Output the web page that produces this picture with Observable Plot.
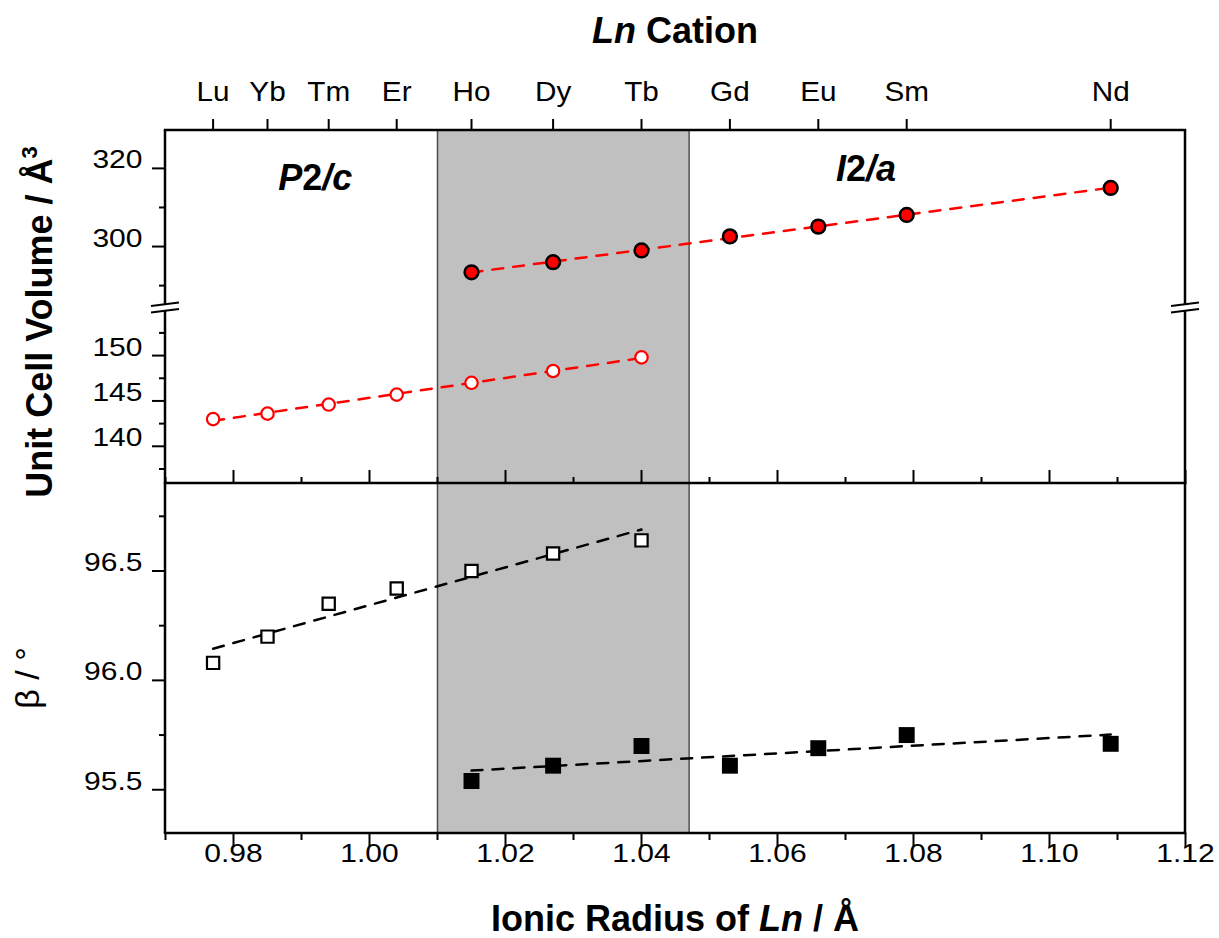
<!DOCTYPE html>
<html>
<head>
<meta charset="utf-8">
<script src="https://cdn.jsdelivr.net/npm/d3@7"></script>
<script src="https://cdn.jsdelivr.net/npm/@observablehq/plot@0.6"></script>
<style>
  body { margin: 0; background: #fff; }
  #chart { position: relative; width: 1219px; height: 938px; }
  #chart > svg { position: absolute; left: 0; overflow: visible; }
</style>
</head>
<body>
<div id="chart"></div>
<script>
// Lanthanide cations and their ionic radii (Å)
const cations = ["Lu", "Yb", "Tm", "Er", "Ho", "Dy", "Tb", "Gd", "Eu", "Sm", "Nd"];
const radii = [0.977, 0.985, 0.994, 1.004, 1.015, 1.027, 1.040, 1.053, 1.066, 1.079, 1.109];

// P2/c phase (Lu–Tb)
const p2cCations = ["Lu", "Yb", "Tm", "Er", "Ho", "Dy", "Tb"];
const p2cVolume = [143.0, 143.6, 144.6, 145.7, 147.0, 148.3, 149.8];
const p2cBeta = [96.08, 96.20, 96.35, 96.42, 96.50, 96.58, 96.64];

// I2/a phase (Ho–Nd)
const i2aCations = ["Ho", "Dy", "Tb", "Gd", "Eu", "Sm", "Nd"];
const i2aVolume = [293.4, 296.0, 299.0, 302.6, 305.1, 308.1, 315.0];
const i2aBeta = [95.54, 95.61, 95.70, 95.61, 95.69, 95.75, 95.71];

// Radius range where both phases occur
const mixedRegion = [1.010, 1.047];

// Axis ticks
const xMajorTicks = [0.98, 1.00, 1.02, 1.04, 1.06, 1.08, 1.10, 1.12];
const xMinorTicks = [0.97, 0.99, 1.01, 1.03, 1.05, 1.07, 1.09, 1.11];
const volHighTicks = [300, 320];
const volHighMinor = [290, 310];
const volLowTicks = [140, 145, 150];
const volLowMinor = [137.5, 142.5, 147.5, 152.5];
const betaTicks = [95.5, 96.0, 96.5];
const betaMinor = [95.75, 96.25, 96.75];

// Scale domains (the volume axis is broken into two segments)
const xDomain = [0.97, 1.12];
const volHighDomain = [284.4, 329.7];
const volLowDomain = [135.9, 155.3];
const betaDomain = [95.3, 96.9];

const radiusOf = new Map(cations.map((c, i) => [c, radii[i]]));
const cationOf = new Map(radii.map((r, i) => [r, cations[i]]));
const p2c = p2cCations.map((c, i) => ({cation: c, r: radiusOf.get(c), vol: p2cVolume[i], beta: p2cBeta[i]}));
const i2a = i2aCations.map((c, i) => ({cation: c, r: radiusOf.get(c), vol: i2aVolume[i], beta: i2aBeta[i]}));

const W = 1219, ML = 165, MR = 34;
const FONT = "'Liberation Sans', Arial, sans-serif";
const RED = "#ff0000";
const DASH = "11 10";
const TICK_FONT = 25;

// Frame edges drawn only on the requested sides; gaps leave room for the axis break
function frameLines(sides, {gapTop = 0, gapBottom = 0} = {}) {
  return (index, scales, values, dims) => {
    const {width, height, marginTop, marginBottom, marginLeft, marginRight} = dims;
    const x0 = marginLeft, x1 = width - marginRight;
    const yTop = marginTop, yBot = height - marginBottom;
    const g = d3.create("svg:g").attr("stroke", "black").attr("stroke-width", 2.5).attr("fill", "none");
    if (sides.includes("top")) g.append("line").attr("x1", x0 - 1.2).attr("x2", x1 + 1.2).attr("y1", yTop).attr("y2", yTop);
    if (sides.includes("bottom")) g.append("line").attr("x1", x0 - 1.2).attr("x2", x1 + 1.2).attr("y1", yBot).attr("y2", yBot);
    for (const [side, x] of [["left", x0], ["right", x1]]) {
      if (sides.includes(side)) g.append("line").attr("x1", x).attr("x2", x).attr("y1", yTop + gapTop).attr("y2", yBot - gapBottom);
    }
    return g.node();
  };
}

// Double slash marking the break of the volume axis, on both vertical edges
function axisBreak() {
  return (index, scales, values, {width, height, marginLeft, marginRight, marginBottom}) => {
    const y = height - marginBottom;
    const g = d3.create("svg:g").attr("stroke", "black").attr("stroke-width", 2);
    for (const x of [marginLeft, width - marginRight]) {
      g.append("line").attr("x1", x - 14).attr("y1", y - 1).attr("x2", x + 14).attr("y2", y - 4.5);
      g.append("line").attr("x1", x - 14).attr("y1", y + 5.5).attr("x2", x + 14).attr("y2", y + 2);
    }
    return g.node();
  };
}

function band() {
  return [
    Plot.rect([mixedRegion], {x1: d => d[0], x2: d => d[1], fill: "#c0c0c0"}),
    Plot.ruleX(mixedRegion, {stroke: "#4a4a4a", strokeWidth: 1.5})
  ];
}

function yAxes(major, minor, format) {
  return [
    Plot.axisY({ticks: major, tickSize: 13, tickPadding: 10, fontSize: TICK_FONT, strokeWidth: 2, tickFormat: format, label: null}),
    Plot.axisY({ticks: minor, tickSize: 6, strokeWidth: 2, tickFormat: () => "", label: null})
  ];
}

function panel({height, marginTop, marginBottom, yDomain, showX, marks}) {
  return Plot.plot({
    width: W, height, marginLeft: ML, marginRight: MR, marginTop, marginBottom,
    x: {domain: xDomain, label: null, ...(showX ? {} : {axis: null})},
    y: {domain: yDomain, label: null},
    style: {fontFamily: FONT, background: "transparent", overflow: "visible", color: "black"},
    marks
  });
}

// Widen tick labels horizontally around their anchor point
function widen(svg, selector, k) {
  svg.querySelectorAll(`g[aria-label="${selector}"] text`).forEach(t => {
    const tr = t.getAttribute("transform") || "";
    const x = +t.getAttribute("x") || 0, y = +t.getAttribute("y") || 0;
    t.removeAttribute("x"); t.removeAttribute("y");
    t.setAttribute("transform", `${tr} translate(${x},${y}) scale(${k},1)`);
  });
}

// Upper segment of the volume axis: I2/a cell volumes, with the cation axis on top
const plotA = panel({
  height: 307, marginTop: 130, marginBottom: 0, yDomain: volHighDomain, showX: true,
  marks: [
    ...band(),
    Plot.linearRegressionY(i2a, {x: "r", y: "vol", stroke: RED, strokeWidth: 2.5, strokeDasharray: DASH, ci: 0}),
    Plot.dot(i2a, {x: "r", y: "vol", r: 6.9, fill: RED, stroke: "black", strokeWidth: 2.5}),
    Plot.axisX({anchor: "top", ticks: radii, tickFormat: d => cationOf.get(d), tickSize: 12, tickPadding: 18, fontSize: 27, strokeWidth: 2, label: null}),
    ...yAxes(volHighTicks, volHighMinor, d3.format("d")),
    frameLines(["top", "left", "right"], {gapBottom: 2.7}),
    axisBreak()
  ]
});

// Lower segment of the volume axis: P2/c cell volumes
const plotB = panel({
  height: 176, marginTop: 0, marginBottom: 0, yDomain: volLowDomain, showX: false,
  marks: [
    ...band(),
    Plot.linearRegressionY(p2c, {x: "r", y: "vol", stroke: RED, strokeWidth: 2.5, strokeDasharray: DASH, ci: 0}),
    Plot.dot(p2c, {x: "r", y: "vol", r: 6.2, fill: "white", stroke: RED, strokeWidth: 2.2}),
    ...yAxes(volLowTicks, volLowMinor, d3.format("d")),
    frameLines(["left", "right"], {gapTop: 3.6})
  ]
});

// Monoclinic angle β for both phases
const plotC = panel({
  height: 455, marginTop: 0, marginBottom: 105, yDomain: betaDomain, showX: true,
  marks: [
    ...band(),
    Plot.linearRegressionY(p2c, {x: "r", y: "beta", stroke: "black", strokeWidth: 2.5, strokeDasharray: DASH, ci: 0}),
    Plot.linearRegressionY(i2a, {x: "r", y: "beta", stroke: "black", strokeWidth: 2.5, strokeDasharray: DASH, ci: 0}),
    Plot.dot(p2c, {x: "r", y: "beta", symbol: "square", r: 6.9, fill: "white", stroke: "black", strokeWidth: 2.2}),
    Plot.dot(i2a, {x: "r", y: "beta", symbol: "square", r: 9, fill: "black"}),
    Plot.axisX({anchor: "top", ticks: xMajorTicks, tickSize: 14, strokeWidth: 2, tickFormat: () => "", label: null}),
    Plot.axisX({anchor: "top", ticks: xMinorTicks, tickSize: 7, strokeWidth: 2, tickFormat: () => "", label: null}),
    Plot.axisX({anchor: "bottom", ticks: xMajorTicks, tickSize: 14, tickPadding: 14, fontSize: TICK_FONT, strokeWidth: 2, tickFormat: d3.format(".2f"), label: null}),
    Plot.axisX({anchor: "bottom", ticks: xMinorTicks, tickSize: 7, strokeWidth: 2, tickFormat: () => "", label: null}),
    ...yAxes(betaTicks, betaMinor, d3.format(".1f")),
    frameLines(["top", "bottom", "left", "right"])
  ]
});

widen(plotA, "x-axis tick label", 1.1);
widen(plotA, "y-axis tick label", 1.2);
widen(plotB, "y-axis tick label", 1.2);
widen(plotC, "x-axis tick label", 1.2);
widen(plotC, "y-axis tick label", 1.2);

const chart = document.getElementById("chart");
plotA.style.top = "0px";
plotB.style.top = "307px";
plotC.style.top = "483px";
chart.append(plotA, plotB, plotC);

// Titles and phase labels
const sx = plotA.scale("x"), syA = plotA.scale("y");
const overlay = d3.create("svg")
  .attr("width", W).attr("height", 938)
  .style("top", "0px")
  .attr("font-family", FONT)
  .attr("fill", "black");

const centerX = (ML + (W - MR)) / 2;

const topTitle = overlay.append("text").attr("x", centerX).attr("y", 43)
  .attr("text-anchor", "middle").attr("font-size", 36).attr("font-weight", "bold");
topTitle.append("tspan").attr("font-style", "italic").text("Ln");
topTitle.append("tspan").text(" Cation");

const bottomTitle = overlay.append("text").attr("x", centerX).attr("y", 931)
  .attr("text-anchor", "middle").attr("font-size", 36).attr("font-weight", "bold");
bottomTitle.append("tspan").text("Ionic Radius of ");
bottomTitle.append("tspan").attr("font-style", "italic").text("Ln");
bottomTitle.append("tspan").text(" / Å");

const yTitle = overlay.append("text").attr("transform", "translate(52,322) rotate(-90)")
  .attr("text-anchor", "middle").attr("font-size", 36).attr("font-weight", "bold");
yTitle.append("tspan").text("Unit Cell Volume / Å");
yTitle.append("tspan").attr("font-size", 22).attr("dy", -15).text("3");

overlay.append("text").attr("transform", "translate(39,678) rotate(-90)")
  .attr("text-anchor", "middle").attr("font-size", 34).text("β / °");

function phaseLabel(x, y, letter, rest) {
  const t = overlay.append("text").attr("x", sx.apply(x)).attr("y", syA.apply(y))
    .attr("text-anchor", "middle").attr("font-size", 36).attr("font-weight", "bold");
  t.append("tspan").attr("font-style", "italic").text(letter);
  t.append("tspan").text("2");
  t.append("tspan").attr("font-style", "italic").text(rest);
}
phaseLabel(0.9921, 314.4, "P", "/c");
phaseLabel(1.0731, 316.7, "I", "/a");

chart.append(overlay.node());
</script>
</body>
</html>
